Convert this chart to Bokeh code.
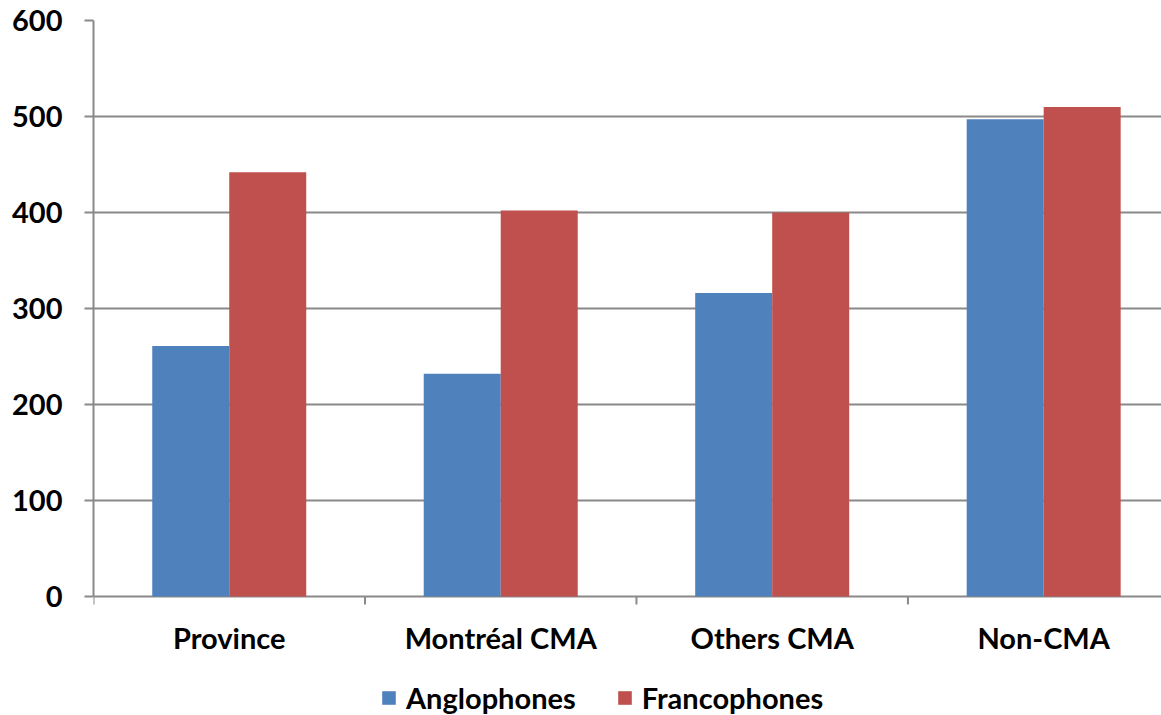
import math
from bokeh.plotting import figure
from bokeh.models import ColumnDataSource, Range1d, FixedTicker, Legend, LegendItem
from bokeh.core.properties import value
from bokeh.transform import dodge
from bokeh.embed import file_html
from bokeh.resources import INLINE

categories = ["Province", "Montréal CMA", "Others CMA", "Non-CMA"]
anglophones = [261, 232, 316, 497]
francophones = [442, 402, 400, 510]
y_ticks = [0, 100, 200, 300, 400, 500, 600]

centers = [i + 0.5 for i in range(len(categories))]
bounds_x = [float(i) for i in range(len(categories))]
source = ColumnDataSource(dict(x=centers, ang=anglophones, fra=francophones, lab=categories))

FONT = "Lato"
FS = "29px"
GRAY = "#898989"
# frame spans from the top gridline (600) down to the window bottom; 0.96 px per unit
p = figure(frame_width=1068, frame_height=695, output_backend="svg", toolbar_location=None,
           x_range=Range1d(0, 3.934), y_range=Range1d(-124, 600),
           x_axis_location=None,
           min_border_left=93, min_border_right=0, min_border_top=20, min_border_bottom=0)
p.outline_line_color = None
p.background_fill_color = "white"
p.border_fill_color = "white"

bw = 0.2836
r1 = p.vbar(x=dodge("x", -bw / 2), top="ang", bottom=0, width=bw, source=source,
            fill_color="#4F81BD", line_color=None)
r2 = p.vbar(x=dodge("x", bw / 2), top="fra", bottom=0, width=bw, source=source,
            fill_color="#C0504D", line_color=None)

# category boundary ticks below the zero line
p.ray(x=bounds_x, y=0, length=8, length_units="screen", angle=-math.pi / 2,
      line_color=GRAY, line_width=2)

# category labels
p.text(x="x", y=0, text="lab", source=source, text_font=value(FONT),
       text_font_style="bold", text_font_size=FS, text_color="black",
       text_align="center", text_baseline="top", y_offset=24)

# y axis
p.yaxis.ticker = FixedTicker(ticks=y_ticks)
p.yaxis.bounds = (0, 600)
p.yaxis.minor_tick_line_color = None
p.yaxis.major_tick_out = 9
p.yaxis.major_tick_in = 0
p.yaxis.major_tick_line_color = GRAY
p.yaxis.major_tick_line_width = 2
p.yaxis.axis_line_color = GRAY
p.yaxis.axis_line_width = 2
p.yaxis.major_label_standoff = 22
p.yaxis.major_label_text_font = FONT
p.yaxis.major_label_text_font_style = "bold"
p.yaxis.major_label_text_font_size = FS
p.yaxis.major_label_text_color = "black"

p.xgrid.grid_line_color = None
p.ygrid.grid_line_color = GRAY
p.ygrid.grid_line_width = 2

legend = Legend(items=[LegendItem(label="Anglophones", renderers=[r1]),
                       LegendItem(label="Francophones", renderers=[r2])],
                orientation="horizontal", location=(287, 0))
legend.border_line_color = None
legend.background_fill_alpha = 0
legend.label_text_font = FONT
legend.label_text_font_style = "bold"
legend.label_text_font_size = FS
legend.label_text_color = "black"
legend.glyph_width = 17
legend.glyph_height = 17
legend.spacing = 40
legend.label_standoff = 9
legend.padding = 2
legend.margin = 0
p.add_layout(legend, "center")

open("out.html", "w").write(file_html(p, INLINE))
